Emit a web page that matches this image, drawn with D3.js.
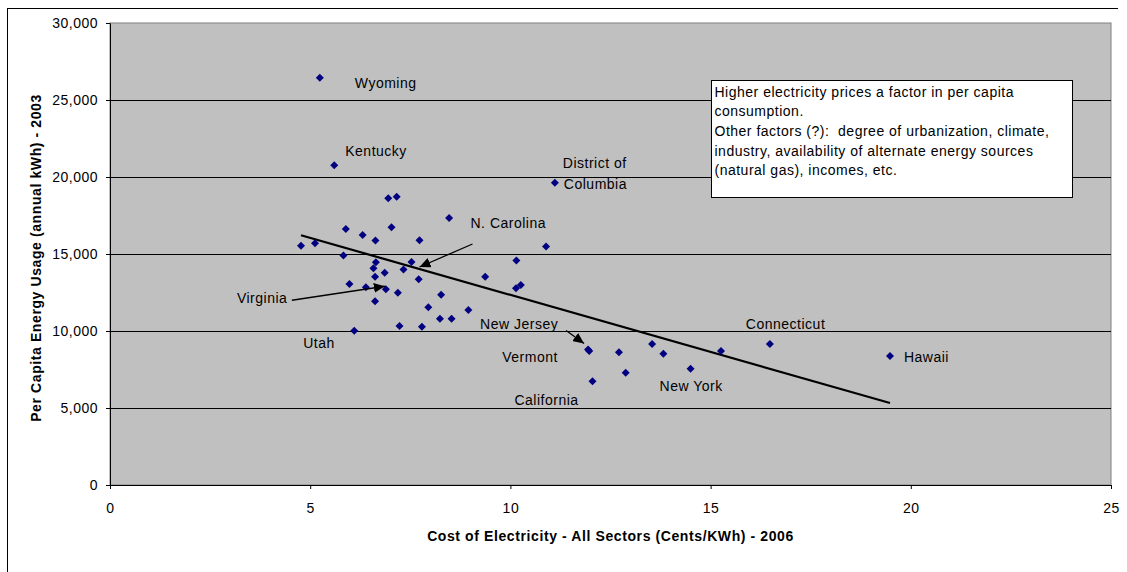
<!DOCTYPE html>
<html>
<head>
<meta charset="utf-8">
<title>Electricity cost vs per capita usage</title>
<style>
  body { margin: 0; background: #fff; }
  svg { display: block; font-family: "Liberation Sans", Arial, sans-serif; }
  .tick text { font-size: 14px; letter-spacing: 0.5px; fill: #000; }
  .lbl { font-size: 14px; letter-spacing: 0.5px; fill: #000; }
  .title { font-size: 14px; font-weight: bold; letter-spacing: 0.6px; fill: #000; }
</style>
</head>
<body>
<svg width="1127" height="572"></svg>
<script src="https://cdn.jsdelivr.net/npm/d3@7"></script>
<script>

// cost of electricity, all sectors (cents/kWh) - 2006
var cost = [5.24, 5.60, 11.11, 6.95, 7.16, 8.47, 5.89, 7.03, 6.31, 6.63,
            7.73, 4.77, 5.12, 10.89, 5.83, 10.15, 7.53, 6.64, 6.58, 7.33,
            6.86, 6.62, 9.37, 7.71, 5.98, 6.39, 6.89, 7.19, 8.27, 10.14,
            10.26, 6.62, 7.95, 8.95, 8.24, 8.53, 7.23, 7.79, 6.10, 11.94,
            11.97, 12.71, 12.05, 12.88, 13.54, 13.82, 14.50, 15.26, 16.48, 19.48];

// per capita energy usage (annual kWh) - 2003
var usage = [26450, 20760, 19630, 18620, 18720, 17340, 16620, 16730, 16230, 15870,
             15890, 15540, 15690, 15480, 14910, 14580, 14480, 14470, 14070, 14000,
             13790, 13530, 13530, 13360, 13050, 12840, 12710, 12490, 12360, 12770,
             12990, 11930, 11540, 11360, 10800, 10800, 10330, 10280, 10020, 8800,
             8700, 8620, 6730, 7290, 9160, 8530, 7550, 8700, 9160, 8380];

var xTicks = [0, 5, 10, 15, 20, 25];
var yTicks = [0, 5000, 10000, 15000, 20000, 25000, 30000];

var noteLines = [
  "Higher electricity prices a factor in per capita",
  "consumption.",
  "Other factors (?):  degree of urbanization, climate,",
  "industry, availability of alternate energy sources",
  "(natural gas), incomes, etc."
];

// state labels: point index, text offset, optional arrow (start / end offsets)
var labels = [
  { i: 0,  text: "Wyoming",     dx: 35,   dy: 10 },
  { i: 1,  text: "Kentucky",    dx: 11,   dy: -9 },
  { i: 2,  text: "District of", dx: 8,    dy: -15 },
  { i: 2,  text: "Columbia",    dx: 9,    dy: 6 },
  { i: 16, text: "N. Carolina", dx: 59,   dy: -34, arrow: [61, -18, 8, 5] },
  { i: 26, text: "Virginia",    dx: -149, dy: 14,  arrow: [-94, 11, -1, -3] },
  { i: 38, text: "Utah",        dx: -51,  dy: 17 },
  { i: 39, text: "New Jersey",  dx: -108, dy: -20, arrow: [-22, -19, -4, -6] },
  { i: 40, text: "Vermont",     dx: -87,  dy: 11 },
  { i: 42, text: "California",  dx: -78,  dy: 24 },
  { i: 46, text: "New York",    dx: -31,  dy: 22 },
  { i: 48, text: "Connecticut", dx: -24,  dy: -15 },
  { i: 49, text: "Hawaii",      dx: 14,   dy: 6 }
];

var svg = d3.select("svg"),
    pLeft = 110, pRight = 1111, pTop = 23, pBottom = 485;

var data = cost.map(function (c, k) { return { x: c, y: usage[k] }; });

var x = d3.scaleLinear().domain([0, 25]).range([pLeft, pRight]);
var y = d3.scaleLinear().domain([0, 30000]).range([pBottom, pTop]);

// outer chart frame (cut off at right / bottom like the original)
svg.append("line").attr("x1", 7).attr("x2", 1118).attr("y1", 8.5).attr("y2", 8.5)
    .attr("stroke", "#000");
svg.append("line").attr("x1", 7.5).attr("x2", 7.5).attr("y1", 8).attr("y2", 572)
    .attr("stroke", "#000");

// plot area
svg.append("rect")
    .attr("x", pLeft).attr("y", pTop)
    .attr("width", pRight - pLeft).attr("height", pBottom - pTop)
    .attr("fill", "#c0c0c0")
    .attr("stroke", "#808080");

// gridlines
svg.append("g").selectAll("line")
    .data(yTicks.filter(function (t) { return t > 0 && t < 30000; }))
    .enter().append("line")
    .attr("x1", pLeft).attr("x2", pRight)
    .attr("y1", function (d) { return Math.round(y(d)) + 0.5; })
    .attr("y2", function (d) { return Math.round(y(d)) + 0.5; })
    .attr("stroke", "#000");

// axes
svg.append("g")
    .attr("transform", "translate(0," + pBottom + ")")
    .call(d3.axisBottom(x).tickValues(xTicks).tickSize(4).tickPadding(14).tickSizeOuter(0));
svg.append("g")
    .attr("transform", "translate(" + pLeft + ",0)")
    .call(d3.axisLeft(y).tickValues(yTicks).tickFormat(d3.format(",")).tickSize(4).tickPadding(8).tickSizeOuter(0));
svg.selectAll(".domain").attr("stroke", "#000");
svg.selectAll(".tick line").attr("stroke", "#000");
svg.selectAll(".tick text").attr("font-family", null).attr("font-size", null);
d3.selectAll("svg > g").attr("font-family", null).attr("font-size", null);

// trendline (least squares over the data, drawn across the data extent)
var mx = d3.mean(cost), my = d3.mean(usage);
var sxy = d3.sum(data, function (d) { return (d.x - mx) * (d.y - my); });
var sxx = d3.sum(data, function (d) { return (d.x - mx) * (d.x - mx); });
var slope = sxy / sxx, icpt = my - slope * mx;
var ext = d3.extent(cost);
svg.append("line")
    .attr("x1", x(ext[0])).attr("y1", y(icpt + slope * ext[0]))
    .attr("x2", x(ext[1])).attr("y2", y(icpt + slope * ext[1]))
    .attr("stroke", "#000").attr("stroke-width", 2.2);

// points
svg.append("g").selectAll("path")
    .data(data)
    .enter().append("path")
    .attr("d", "M0,-4L4,0L0,4L-4,0Z")
    .attr("transform", function (d) { return "translate(" + x(d.x) + "," + y(d.y) + ")"; })
    .attr("fill", "#000080");

// arrowhead
svg.append("defs").append("marker")
    .attr("id", "arr")
    .attr("markerUnits", "userSpaceOnUse")
    .attr("markerWidth", 12).attr("markerHeight", 10)
    .attr("refX", 11).attr("refY", 5)
    .attr("orient", "auto")
    .append("path").attr("d", "M0,0L11,5L0,10Z").attr("fill", "#000");

var lab = svg.append("g");
labels.forEach(function (l) {
  var px = x(data[l.i].x), py = y(data[l.i].y);
  lab.append("text").attr("class", "lbl")
      .attr("x", px + l.dx).attr("y", py + l.dy)
      .text(l.text);
  if (l.arrow) {
    lab.append("line")
        .attr("x1", px + l.arrow[0]).attr("y1", py + l.arrow[1])
        .attr("x2", px + l.arrow[2]).attr("y2", py + l.arrow[3])
        .attr("stroke", "#000").attr("stroke-width", 1.3)
        .attr("marker-end", "url(#arr)");
  }
});

// note box
var note = svg.append("g").attr("transform", "translate(711.5,80.5)");
note.append("rect").attr("width", 361).attr("height", 117)
    .attr("fill", "#fff").attr("stroke", "#000");
note.selectAll("text")
    .data(noteLines)
    .enter().append("text").attr("class", "lbl")
    .attr("x", 3)
    .attr("y", function (d, k) { return 16 + k * 19.7; })
    .attr("xml:space", "preserve")
    .text(function (d) { return d; });

// axis titles
svg.append("text").attr("class", "title")
    .attr("x", (pLeft + pRight) / 2).attr("y", 541)
    .attr("text-anchor", "middle")
    .text("Cost of Electricity - All Sectors (Cents/KWh) - 2006");
svg.append("text").attr("class", "title")
    .attr("transform", "translate(41," + ((pTop + pBottom) / 2 + 4) + ") rotate(-90)")
    .attr("text-anchor", "middle")
    .text("Per Capita Energy Usage (annual kWh) - 2003");

</script>
</body>
</html>
